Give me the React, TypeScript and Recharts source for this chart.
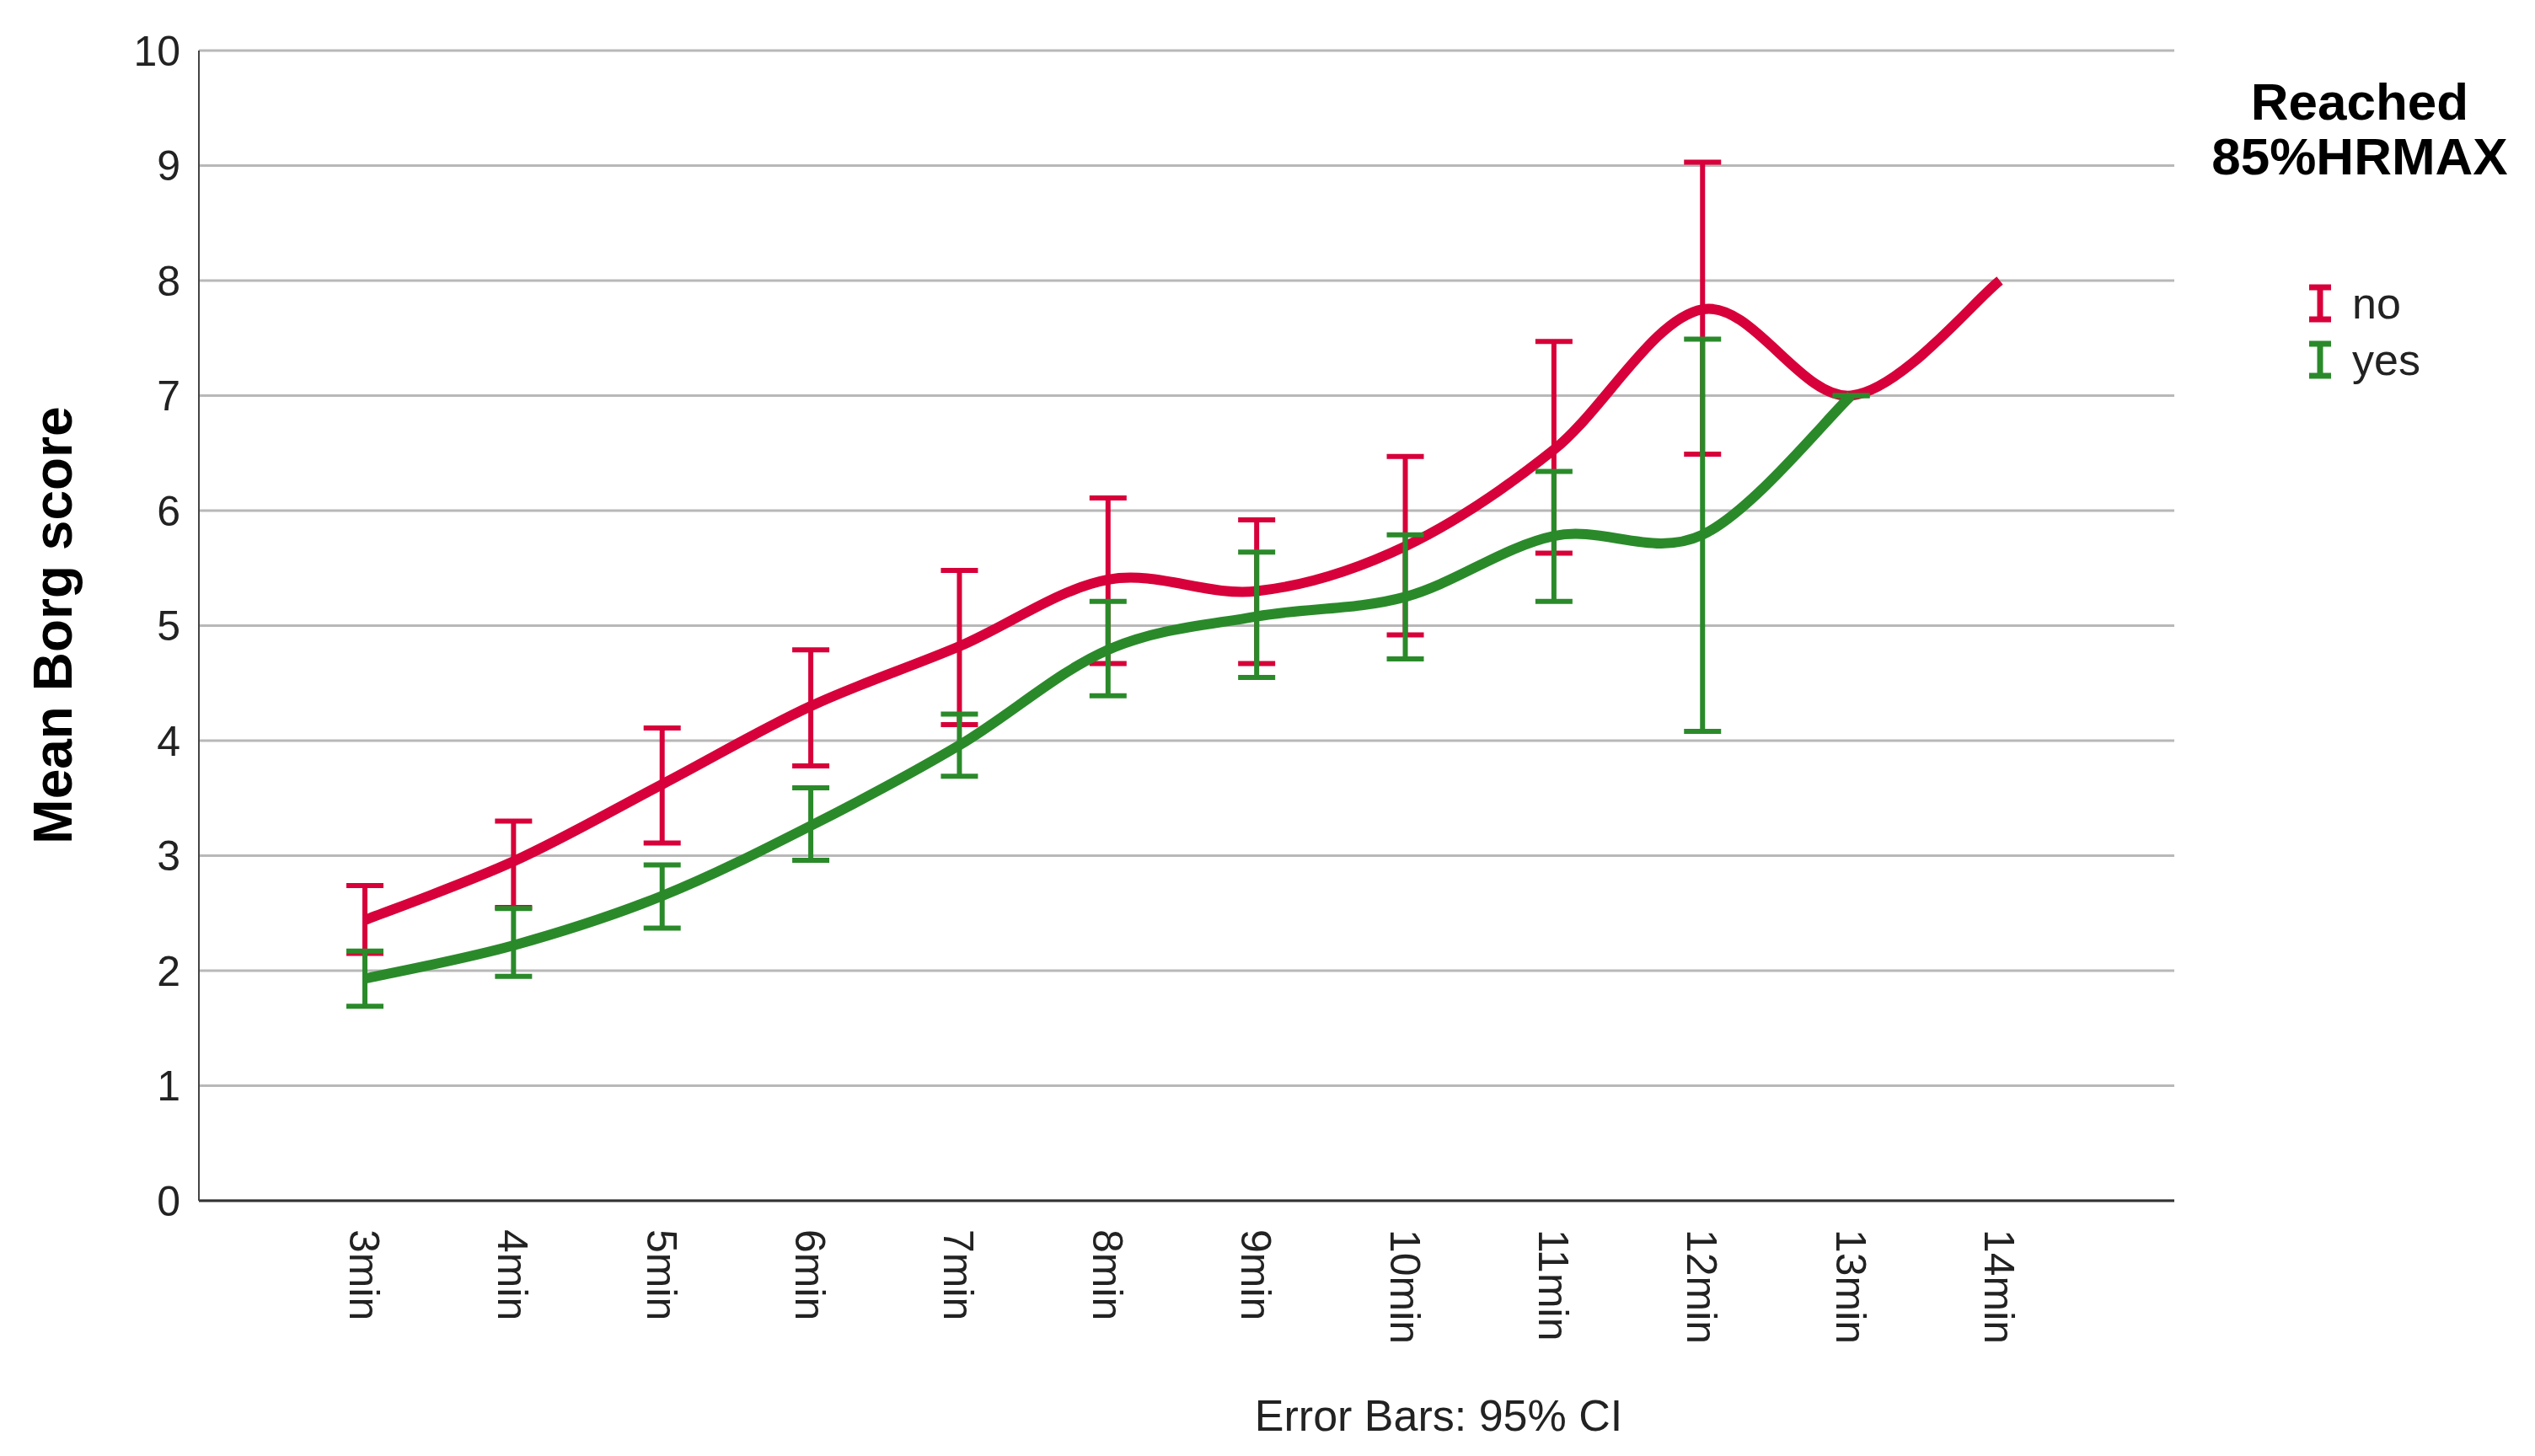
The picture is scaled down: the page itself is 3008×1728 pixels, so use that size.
import { LineChart, Line, XAxis, YAxis, CartesianGrid, ErrorBar, Label } from 'recharts'

const minutes = [3, 4, 5, 6, 7, 8, 9, 10, 11, 12, 13, 14]

// Reached 85%HRMAX = no
const noMean = [2.44, 2.95, 3.62, 4.3, 4.82, 5.4, 5.3, 5.69, 6.53, 7.75, 7.0, 8.0]
const noLow = [2.15, 2.55, 3.11, 3.78, 4.14, 4.67, 4.67, 4.92, 5.63, 6.49, null, null]
const noHigh = [2.74, 3.3, 4.11, 4.79, 5.48, 6.11, 5.92, 6.47, 7.47, 9.03, null, null]

// Reached 85%HRMAX = yes
const yesMean = [1.93, 2.22, 2.65, 3.26, 3.96, 4.79, 5.08, 5.25, 5.78, 5.79, 7.0, null]
const yesLow = [1.69, 1.95, 2.37, 2.96, 3.69, 4.39, 4.55, 4.71, 5.21, 4.08, 7.0, null]
const yesHigh = [2.17, 2.54, 2.92, 3.59, 4.23, 5.21, 5.64, 5.79, 6.34, 7.49, 7.0, null]

const yTicks = [0, 1, 2, 3, 4, 5, 6, 7, 8, 9, 10]

const RED = '#d7003a'
const GREEN = '#2a8a2a'
const FONT = '"Liberation Sans", Arial, sans-serif'

const errOf = (mean: number | null, lo: number | null, hi: number | null) =>
  mean == null || lo == null || hi == null ? undefined : [mean - lo, hi - mean]

const data = minutes.map((m, i) => ({
  minute: m,
  no: noMean[i],
  noErr: errOf(noMean[i], noLow[i], noHigh[i]),
  yes: yesMean[i],
  yesErr: errOf(yesMean[i], yesLow[i], yesHigh[i]),
}))

// catmull-rom style spline, like the SPSS interpolation line
const splineCurve = (context: any) => {
  let pts: number[][] = []
  return {
    areaStart() {},
    areaEnd() {},
    lineStart() {
      pts = []
    },
    point(x: number, y: number) {
      pts.push([+x, +y])
    },
    lineEnd() {
      if (!pts.length) return
      context.moveTo(pts[0][0], pts[0][1])
      for (let i = 0; i < pts.length - 1; i++) {
        const p0 = pts[i - 1] || pts[i]
        const p1 = pts[i]
        const p2 = pts[i + 1]
        const p3 = pts[i + 2] || p2
        context.bezierCurveTo(
          p1[0] + (p2[0] - p0[0]) / 6,
          p1[1] + (p2[1] - p0[1]) / 6,
          p2[0] - (p3[0] - p1[0]) / 6,
          p2[1] - (p3[1] - p1[1]) / 6,
          p2[0],
          p2[1]
        )
      }
    },
  }
}

const XTick = ({ x, y, payload }: any) => (
  <text
    transform={`translate(${x},${y + 26}) rotate(90)`}
    textAnchor="start"
    dy="0.36em"
    fontSize={50}
    fontFamily={FONT}
    fill="#222"
  >
    {`${payload.value}min`}
  </text>
)

const IBeam = ({ color }: { color: string }) => (
  <svg width={26} height={46} style={{ display: 'block' }}>
    <line x1={0} y1={4} x2={26} y2={4} stroke={color} strokeWidth={7} />
    <line x1={13} y1={4} x2={13} y2={42} stroke={color} strokeWidth={7} />
    <line x1={0} y1={42} x2={26} y2={42} stroke={color} strokeWidth={7} />
  </svg>
)

const legendItems = [
  { name: 'no', color: RED },
  { name: 'yes', color: GREEN },
]

const LegendBox = () => (
  <div style={{ position: 'absolute', left: 2600, top: 88, width: 400, fontFamily: FONT }}>
    <div style={{ textAlign: 'center', fontWeight: 'bold', fontSize: 62, lineHeight: '65px', color: '#000' }}>
      Reached
      <br />
      85%HRMAX
    </div>
    <div style={{ marginTop: 108, paddingLeft: 140 }}>
      {legendItems.map((it) => (
        <div key={it.name} style={{ display: 'flex', alignItems: 'center', height: 67 }}>
          <IBeam color={it.color} />
          <span style={{ fontSize: 52, marginLeft: 25, color: '#222' }}>{it.name}</span>
        </div>
      ))}
    </div>
  </div>
)

export default function App() {
  return (
    <div style={{ position: 'absolute', left: 0, top: 0, width: 3008, height: 1728, background: '#fff' }}>
      <LineChart
        width={3008}
        height={1728}
        data={data}
        margin={{ top: 60, right: 428, left: 116, bottom: 103 }}
      >
        <CartesianGrid vertical={false} stroke="#b8b8b8" strokeWidth={3} />
        <XAxis
          dataKey="minute"
          type="number"
          domain={[1.883, 15.174]}
          allowDataOverflow
          ticks={minutes}
          interval={0}
          height={200}
          tickLine={false}
          axisLine={{ stroke: '#333', strokeWidth: 3 }}
          tick={<XTick />}
        >
          <Label
            content={() => (
              <text x={1707} y={1680} textAnchor="middle" dominantBaseline="central" fontSize={52} fontFamily={FONT} fill="#222">
                Error Bars: 95% CI
              </text>
            )}
          />
        </XAxis>
        <YAxis
          width={120}
          domain={[0, 10]}
          ticks={yTicks}
          interval={0}
          tickLine={false}
          tickSize={0}
          tickMargin={22}
          axisLine={{ stroke: '#444', strokeWidth: 2 }}
          tick={{ fontSize: 50, fontFamily: FONT, fill: '#222' }}
        >
          <Label
            content={() => (
              <text
                transform="translate(63,742) rotate(-90)"
                textAnchor="middle"
                dominantBaseline="central"
                fontSize={64}
                fontWeight="bold"
                fontFamily={FONT}
                fill="#000"
              >
                Mean Borg score
              </text>
            )}
          />
        </YAxis>
        <Line
          dataKey="no"
          name="no"
          type={splineCurve as any}
          stroke={RED}
          strokeWidth={12}
          dot={false}
          activeDot={false}
          isAnimationActive={false}
        >
          <ErrorBar dataKey="noErr" direction="y" width={22} stroke={RED} strokeWidth={6} isAnimationActive={false} />
        </Line>
        <Line
          dataKey="yes"
          name="yes"
          type={splineCurve as any}
          stroke={GREEN}
          strokeWidth={12}
          dot={false}
          activeDot={false}
          isAnimationActive={false}
        >
          <ErrorBar dataKey="yesErr" direction="y" width={22} stroke={GREEN} strokeWidth={6} isAnimationActive={false} />
        </Line>
      </LineChart>
      <LegendBox />
    </div>
  )
}
